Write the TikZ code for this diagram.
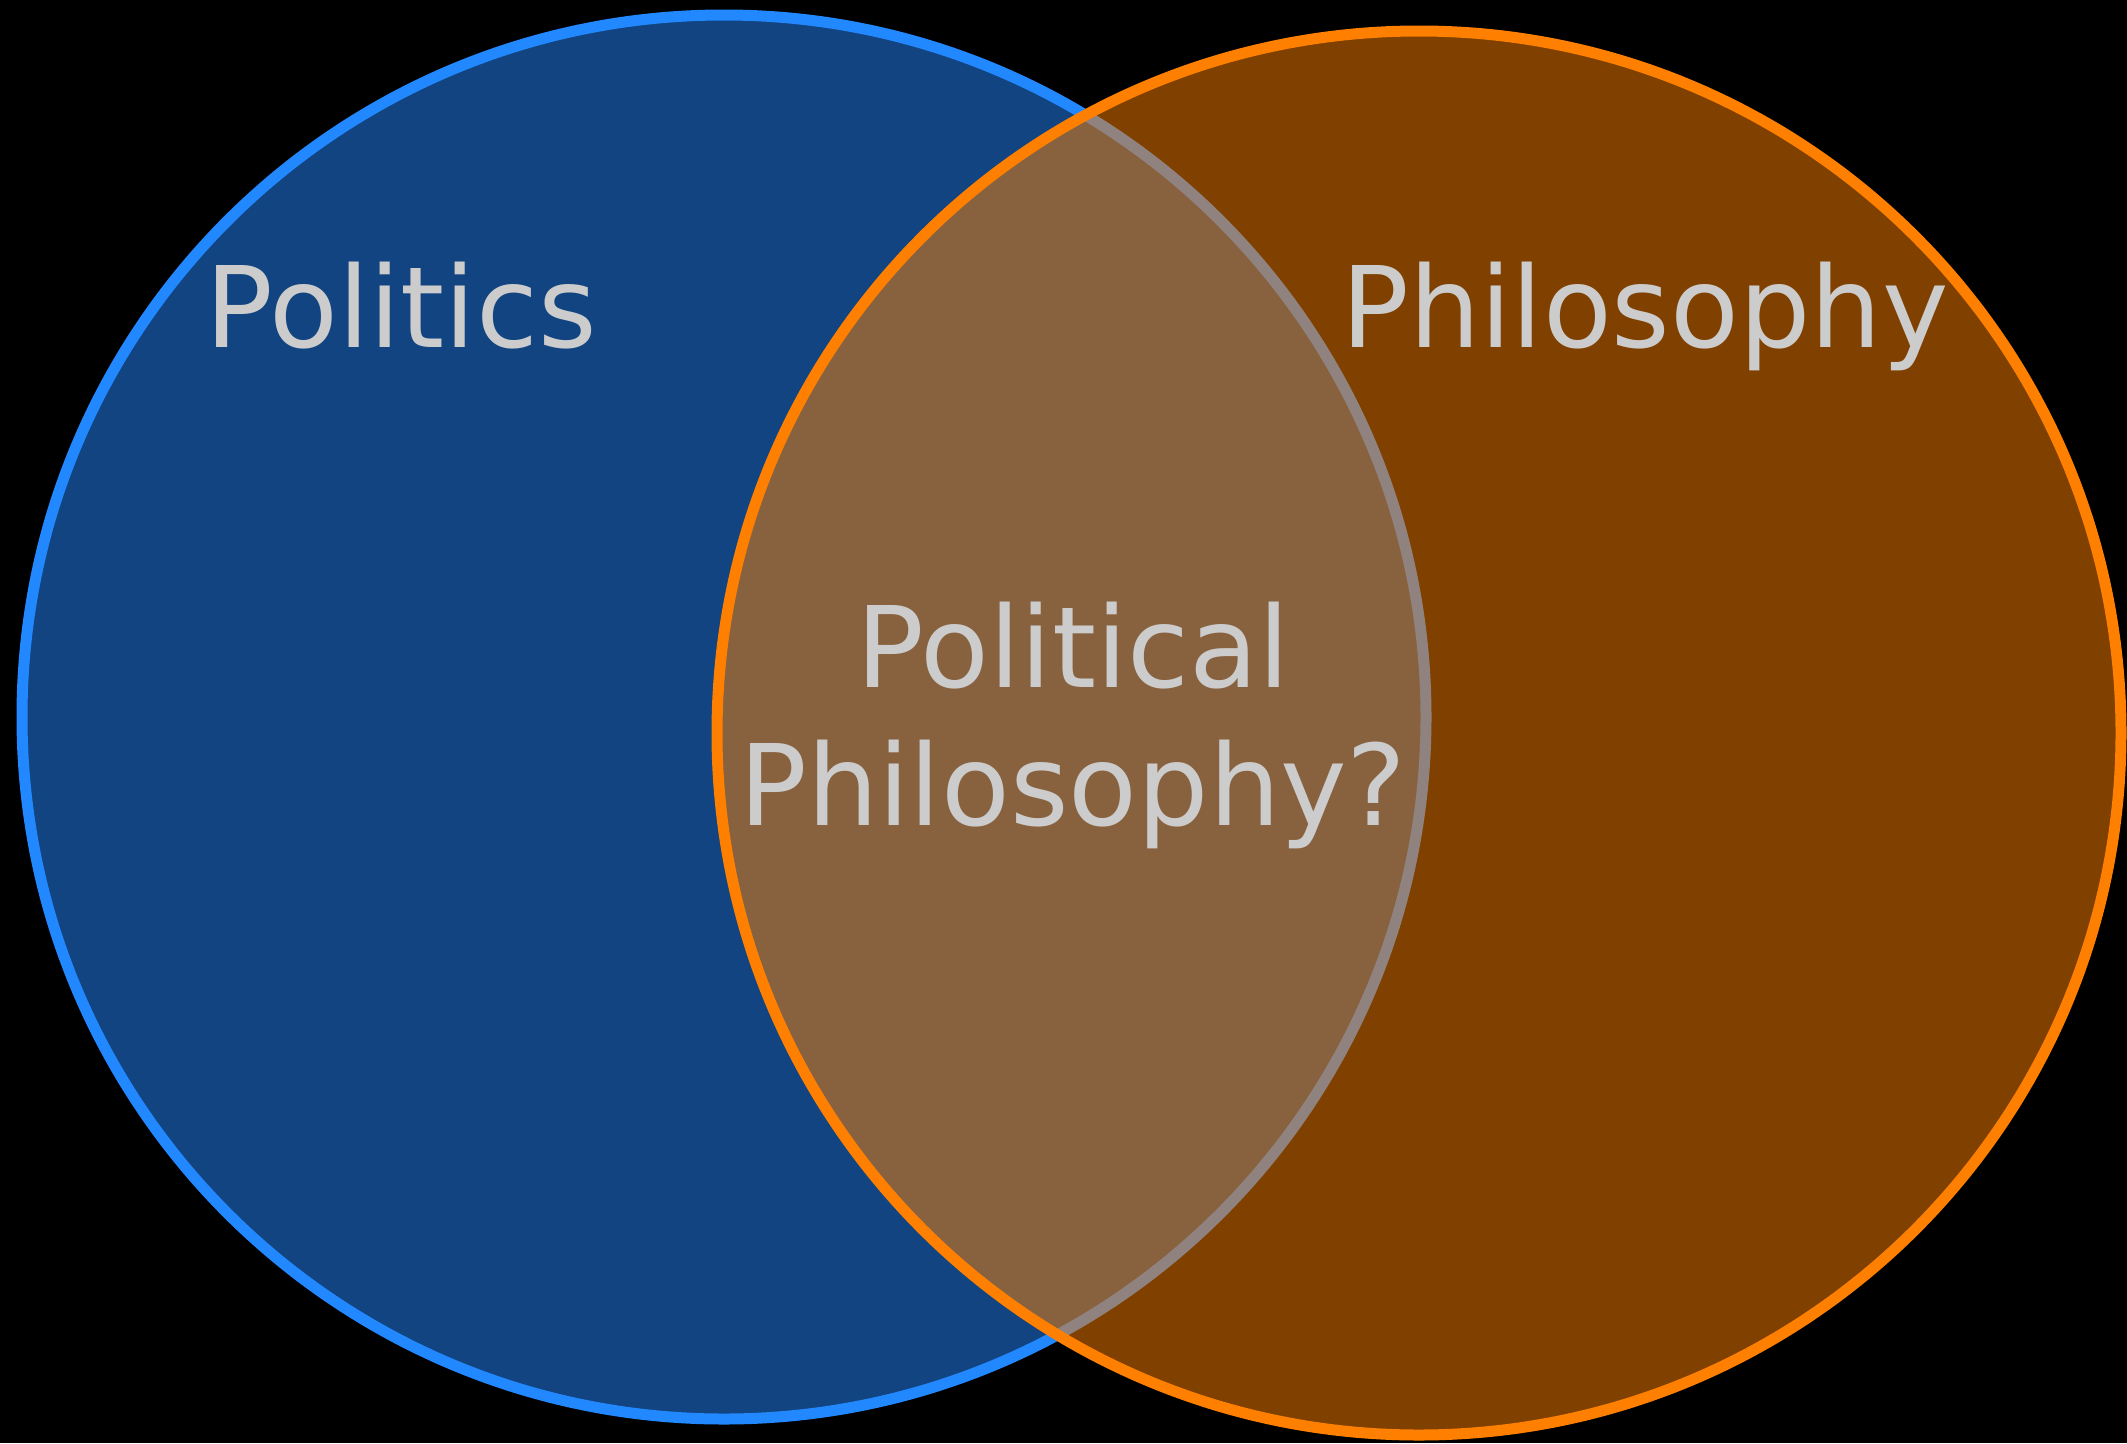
\documentclass[tikz,border=0pt]{standalone}
\usepackage{fontspec}
\setmainfont{DejaVu Sans}
\definecolor{polblue}{HTML}{2288FF}
\definecolor{philorange}{HTML}{FF8000}
\definecolor{labelgray}{HTML}{CCCCCC}
\begin{document}
\begin{tikzpicture}[x=1pt,y=-1pt,
  setcircle/.style={line width=11pt},
  lbl/.style={text=labelgray, inner sep=0pt, font=\fontsize{112.5}{138}\selectfont}]
\fill[black] (0,0) rectangle (2127,1443);
\useasboundingbox (0,0) rectangle (2127,1443);
% Politics circle
\fill[polblue, fill opacity=0.5] (724,717) circle[radius=702];
\draw[polblue, setcircle] (724,717) circle[radius=702];
% Philosophy circle
\fill[philorange, fill opacity=0.5] (1419,733) circle[radius=702];
\draw[philorange, setcircle] (1419,733) circle[radius=702];
% labels
\node[lbl, anchor=base] (politics) at (401,347) {Politics};
\node[lbl, anchor=base] (philosophy) at (1645,347) {Philosophy};
\node[lbl, anchor=base, align=center] (polphil) at (1073,825) {Political\\Philosophy?};
\end{tikzpicture}
\end{document}
